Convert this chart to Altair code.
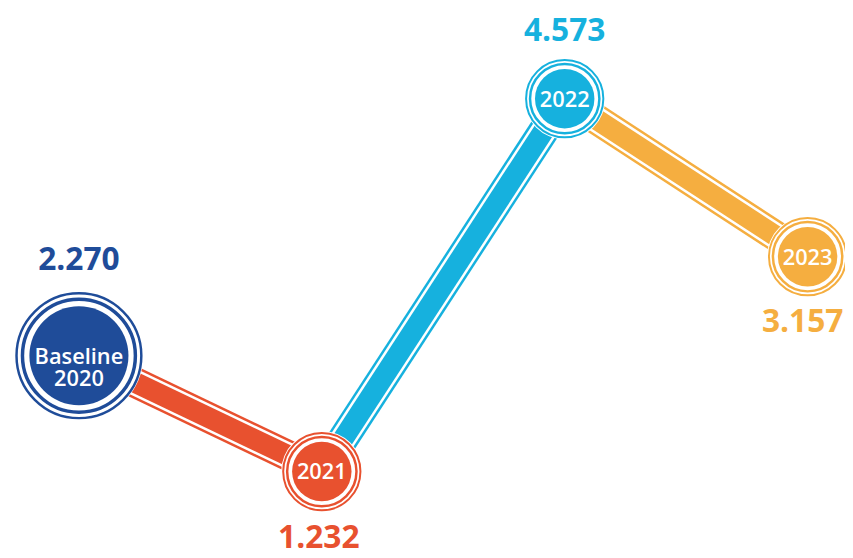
import altair as alt
import pandas as pd

# ---- data ----
years = [2020, 2021, 2022, 2023]
values = [2.270, 1.232, 4.573, 3.157]
value_labels = ["2.270", "1.232", "4.573", "3.157"]
inner_labels = ["Baseline\n2020", "2021", "2022", "2023"]
colors = ["#1f4c99", "#e8512f", "#16b1de", "#f5ae40"]

points = pd.DataFrame({
    "year": years,
    "value": values,
    "vlabel": value_labels,
    "inner": inner_labels,
    "color": colors,
})

# segments: each connects consecutive points, coloured as the destination point
seg_rows = []
for k in range(1, len(years)):
    for j in (k - 1, k):
        seg_rows.append({"seg": k, "year": years[j], "value": values[j], "color": colors[k]})
segs = pd.DataFrame(seg_rows)

# ---- styles ----
FONT = "Open Sans"
label_dy = {2020: -87, 2021: 77, 2022: -58, 2023: 76}
label_dx = {2020: 0, 2021: -3, 2022: 0, 2023: -5}

x = alt.X("year:Q", scale=alt.Scale(domain=[2019.708, 2023.154], nice=False, zero=False), axis=None)
y = alt.Y("value:Q", scale=alt.Scale(domain=[0.481, 5.362], nice=False, zero=False), axis=None)
col = alt.Color("color:N", scale=None, legend=None)

is_base = alt.datum.year == 2020


def by_base(big, small):
    return alt.condition(is_base, alt.value(big), alt.value(small))


base_seg = alt.Chart(segs).encode(x=x, y=y, detail="seg:N")
seg_outer = base_seg.mark_line(strokeWidth=31, strokeCap="butt").encode(color=col)
seg_gap = base_seg.mark_line(strokeWidth=26, strokeCap="butt", color="white")
seg_inner = base_seg.mark_line(strokeWidth=21, strokeCap="butt").encode(color=col)

base_pt = alt.Chart(points).encode(x=x, y=y)
halo = base_pt.mark_point(shape="circle", filled=True, color="white", strokeWidth=0, opacity=1).encode(
    size=by_base(16900, 6724)
)
ring_outer = base_pt.mark_point(shape="circle", filled=False, opacity=1).encode(
    size=by_base(15876, 6084), color=col, strokeWidth=by_base(2.5, 2)
)
ring_inner = base_pt.mark_point(shape="circle", filled=False, opacity=1).encode(
    size=by_base(12996, 4900), color=col, strokeWidth=by_base(3.5, 2.5)
)
disc = base_pt.mark_point(shape="circle", filled=True, strokeWidth=0, opacity=1).encode(
    size=by_base(10000, 3600), color=col
)
inner_text = base_pt.mark_text(
    color="white", font=FONT, fontWeight=600, fontSize=22, lineBreak="\n",
    lineHeight=23, baseline="middle", align="center", dy=1
).encode(text="inner:N")

value_layers = []
for yr in years:
    value_layers.append(
        base_pt.transform_filter(alt.datum.year == yr).mark_text(
            font=FONT, fontWeight="bold", fontSize=32, baseline="alphabetic",
            align="center", dy=label_dy[yr], dx=label_dx[yr]
        ).encode(text="vlabel:N", color=col)
    )

chart = alt.layer(
    seg_outer, seg_gap, seg_inner, halo, ring_outer, ring_inner, disc, inner_text, *value_layers
).properties(
    width=845, height=550, padding=0, autosize="none"
).configure_view(stroke=None)

chart.save("out.html", embed_options={"renderer": "svg", "actions": False})
